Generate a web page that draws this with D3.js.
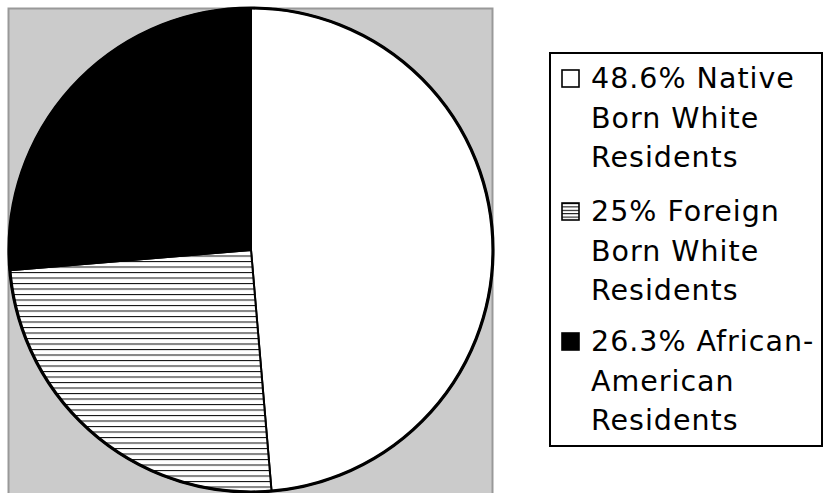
<!DOCTYPE html>
<html>
<head>
<meta charset="utf-8">
<script src="https://cdn.jsdelivr.net/npm/d3@7"></script>
<style>
  body { margin: 0; background: #fff; }
  svg { display: block; }
</style>
</head>
<body>
<svg width="825" height="493"></svg>
<script>
"use strict";

// slice shares, in drawing order (clockwise from 12 o'clock)
const groups = ['native', 'foreign', 'african']
const shares = [48.6, 25, 26.3]
const labels = [
	['48.6% Native', 'Born White', 'Residents'],
	['25% Foreign', 'Born White', 'Residents'],
	['26.3% African-', 'American', 'Residents']
]

;(function() {
	const svg = d3.select('svg')

	const defs = svg.append('defs')
	// horizontal hatching for the foreign born slice
	const hp = defs.append('pattern')
		.attr('id', 'hatch')
		.attr('patternUnits', 'userSpaceOnUse')
		.attr('width', 8).attr('height', 5.5)
	hp.append('rect').attr('width', 8).attr('height', 5.5).attr('fill', '#fff')
	hp.append('line').attr('x1', 0).attr('x2', 8).attr('y1', 0.5).attr('y2', 0.5)
		.attr('stroke', '#111').attr('stroke-width', 1.1)

	const hl = defs.append('pattern')
		.attr('id', 'hatchLegend')
		.attr('patternUnits', 'objectBoundingBox')
		.attr('patternContentUnits', 'objectBoundingBox')
		.attr('width', 1).attr('height', 0.2)
	hl.append('rect').attr('width', 1).attr('height', 0.2).attr('fill', '#fff')
	hl.append('rect').attr('y', 0).attr('width', 1).attr('height', 0.06).attr('fill', '#000')

	const fills = d3.scaleOrdinal().domain(groups).range(['#fff', 'url(#hatch)', '#000'])
	const legendFills = d3.scaleOrdinal().domain(groups).range(['#fff', 'url(#hatchLegend)', '#000'])

	// plot area
	const plot = {x: 8, y: 8, w: 484, h: 500}
	svg.append('rect')
		.attr('x', plot.x + 0.5).attr('y', plot.y + 0.5)
		.attr('width', plot.w).attr('height', plot.h)
		.attr('fill', '#cbcbcb')
		.attr('stroke', '#999').attr('stroke-width', 2)

	const cx = 251, cy = 250, r = 242
	const pie = d3.pie().sort(null).value(d => d.v)
	const arc = d3.arc().innerRadius(0).outerRadius(r)
	const data = pie(groups.map((g, i) => ({g, v: shares[i]})))

	const g = svg.append('g').attr('transform', `translate(${cx},${cy})`)
	g.selectAll('path.slice')
		.data(data)
		.join('path')
		.attr('class', 'slice')
		.attr('d', arc)
		.attr('fill', d => fills(d.data.g))
		.attr('stroke', '#000')
		.attr('stroke-width', 2)
		.attr('stroke-linejoin', 'round')
	// heavier outer rim
	g.append('circle').attr('r', r)
		.attr('fill', 'none').attr('stroke', '#000').attr('stroke-width', 3.2)

	// legend
	const lg = {x: 550, y: 53, w: 272, h: 393}
	svg.append('rect')
		.attr('x', lg.x).attr('y', lg.y).attr('width', lg.w).attr('height', lg.h)
		.attr('fill', '#fff').attr('stroke', '#000').attr('stroke-width', 2)

	const firstBase = [88, 221, 351]
	const lineH = 39.5
	const items = svg.selectAll('g.item')
		.data(groups)
		.join('g')
		.attr('class', 'item')
		.attr('transform', (d, i) => `translate(0,${firstBase[i]})`)

	items.append('rect')
		.attr('x', 562).attr('y', -18)
		.attr('width', 17).attr('height', 17)
		.attr('fill', d => legendFills(d))
		.attr('stroke', '#000').attr('stroke-width', 1.6)

	items.append('text')
		.attr('x', 591)
		.attr('font-family', 'DejaVu Sans, sans-serif')
		.attr('font-size', 28.5)
		.attr('letter-spacing', 1)
		.attr('fill', '#000')
		.selectAll('tspan')
		.data((d, i) => labels[i])
		.join('tspan')
		.attr('x', 591)
		.attr('y', (d, i) => i * lineH)
		.text(d => d)
})()
</script>
</body>
</html>
